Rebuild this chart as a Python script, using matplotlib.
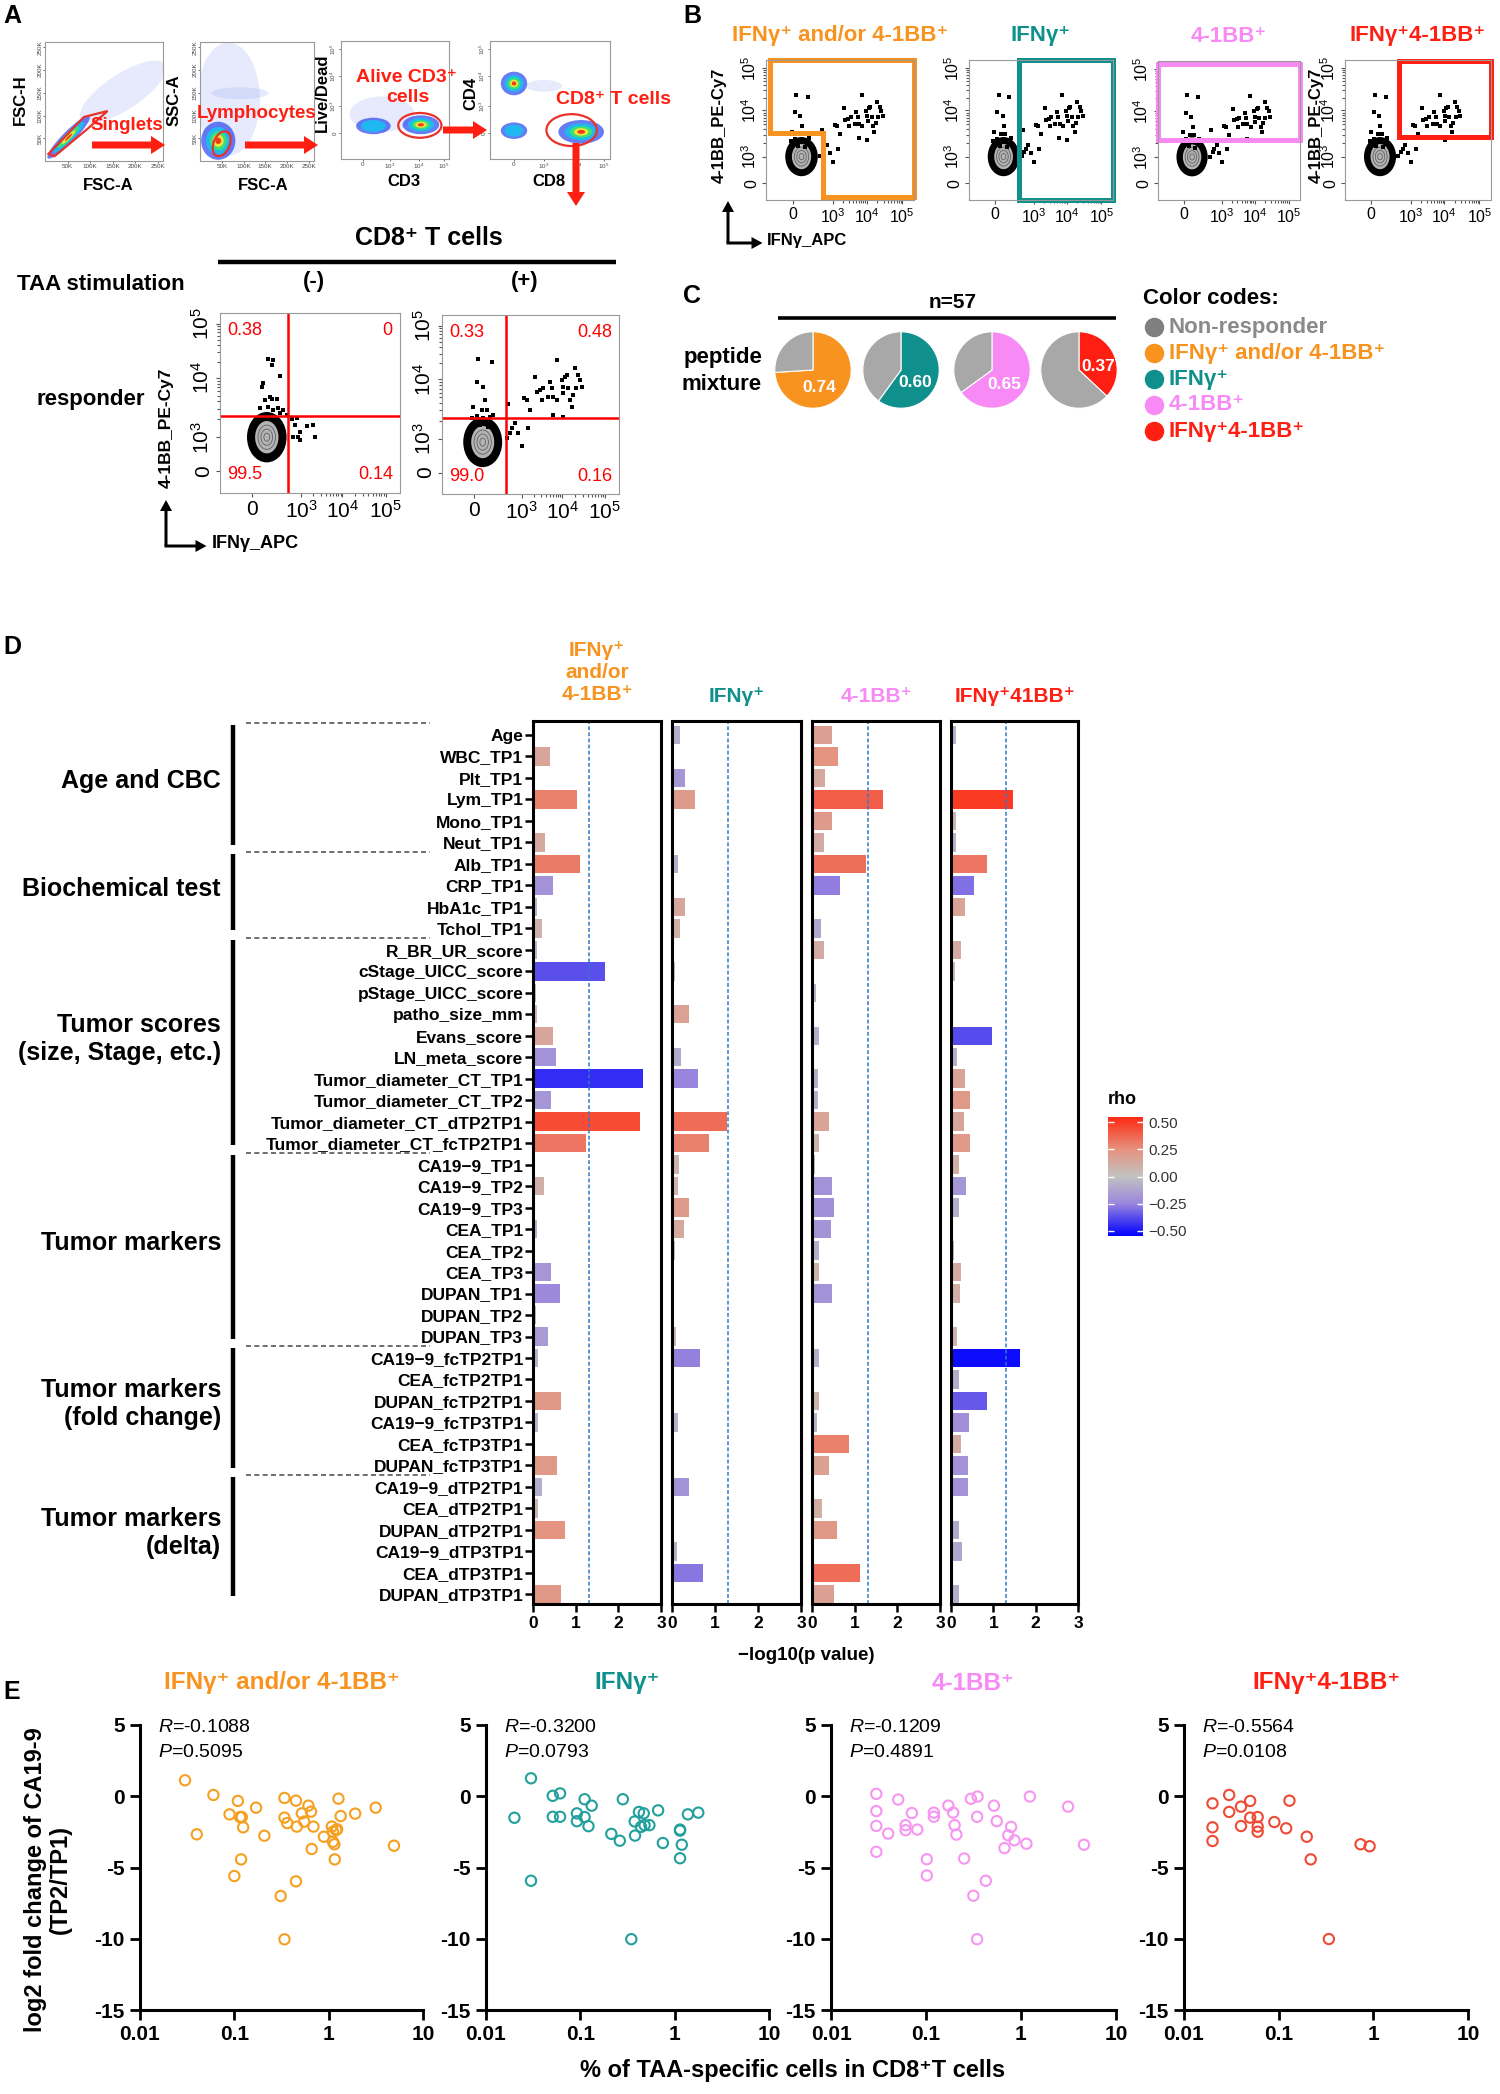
import numpy as np
import matplotlib.pyplot as plt
from matplotlib.colors import LinearSegmentedColormap, Normalize
from matplotlib.cm import ScalarMappable
from matplotlib.patches import Ellipse, Polygon, FancyArrow

plt.rcParams['font.family'] = ['Liberation Sans', 'DejaVu Sans']
plt.rcParams['mathtext.fontset'] = 'custom'
plt.rcParams['mathtext.rm'] = 'Liberation Sans'
plt.rcParams['mathtext.it'] = 'Liberation Sans:italic'
plt.rcParams['mathtext.bf'] = 'Liberation Sans:bold'

W, H = 1500, 2094

ORANGE = '#f7931e'
TEAL = '#10908c'
PINK = '#f88af5'
RED = '#ff1f12'
GREY = '#a8a8a8'

# ---------------- panel A/B flow data (display channel units 0-1) ----------------
pos_x = [0.375, 0.394, 0.412, 0.463, 0.478, 0.497, 0.525, 0.535, 0.554, 0.563,
         0.572, 0.60, 0.61, 0.62, 0.629, 0.648, 0.652, 0.676, 0.682, 0.686,
         0.695, 0.704, 0.714, 0.723, 0.733, 0.742, 0.751, 0.757, 0.77, 0.78,
         0.789, 0.682, 0.625, 0.488, 0.454, 0.431, 0.384, 0.366, 0.205, 0.281,
         0.196, 0.233, 0.243, 0.252, 0.224, 0.177, 0.196, 0.271, 0.29, 0.233,
         0.168, 0.215, 0.262]
pos_y = [0.501, 0.367, 0.395, 0.535, 0.525, 0.469, 0.655, 0.572, 0.581, 0.525,
         0.59, 0.544, 0.627, 0.59, 0.544, 0.749, 0.525, 0.637, 0.60, 0.563,
         0.655, 0.665, 0.59, 0.525, 0.488, 0.553, 0.702, 0.59, 0.665, 0.637,
         0.60, 0.432, 0.441, 0.367, 0.27, 0.339, 0.343, 0.311, 0.752, 0.739,
         0.627, 0.60, 0.525, 0.469, 0.469, 0.488, 0.436, 0.432, 0.441, 0.423,
         0.423, 0.385, 0.376]
neg_x = [0.268, 0.293, 0.287, 0.333, 0.241, 0.231, 0.25, 0.278, 0.287, 0.315,
         0.268, 0.222, 0.296, 0.324, 0.352, 0.333, 0.398, 0.426, 0.417, 0.444,
         0.435, 0.481, 0.519, 0.528, 0.444, 0.407, 0.374, 0.352]
neg_y = [0.742, 0.739, 0.711, 0.65, 0.609, 0.587, 0.517, 0.535, 0.52, 0.52,
         0.48, 0.47, 0.461, 0.47, 0.461, 0.443, 0.409, 0.415, 0.378, 0.341,
         0.309, 0.372, 0.378, 0.313, 0.294, 0.313, 0.433, 0.341]
quad_neg = ['0.38', '0', '99.5', '0.14']
quad_pos = ['0.33', '0.48', '99.0', '0.16']

# gating density populations: (cx, cy, w, h, angle, layers)
pops_singlets = [(0.66, 0.58, 0.85, 0.3, 33, 0), (0.2, 0.2, 0.5, 0.1, 45, 5)]
pops_lymph = [(0.25, 0.52, 0.55, 0.95, 0, 0), (0.35, 0.57, 0.5, 0.1, 0, 0),
              (0.16, 0.17, 0.3, 0.32, 0, 5)]
pops_cd3 = [(0.38, 0.38, 0.6, 0.3, 0, 0), (0.3, 0.28, 0.32, 0.14, 0, 2),
            (0.74, 0.29, 0.34, 0.16, 0, 5)]
pops_cd8 = [(0.45, 0.62, 0.3, 0.1, 0, 0), (0.2, 0.64, 0.22, 0.2, 0, 5),
            (0.2, 0.24, 0.22, 0.14, 0, 2), (0.76, 0.23, 0.38, 0.2, 0, 5)]
singlet_gate = [(0.03, 0.06), (0.33, 0.37), (0.53, 0.42), (0.36, 0.27), (0.08, 0.04)]
lymph_gate = (0.19, 0.145, 0.22, 0.14, 65)
cd3_gate = (0.73, 0.285, 0.4, 0.21, 0)
cd8_gate = (0.68, 0.245, 0.42, 0.27, 0)

# panel B gates in channel units
gate_any = [(0.03, 1.0), (1.0, 1.0), (1.0, 0.02), (0.385, 0.02), (0.385, 0.48), (0.03, 0.48), (0.03, 1.0)]
gate_ifng = [(0.35, 0.0), (0.35, 1.0), (1.0, 1.0), (1.0, 0.0), (0.35, 0.0)]
gate_bb = [(0.0, 0.43), (0.0, 0.98), (1.0, 0.98), (1.0, 0.43), (0.0, 0.43)]
gate_dp = [(0.37, 0.45), (0.37, 0.99), (1.0, 0.99), (1.0, 0.45), (0.37, 0.45)]

# ---------------- panel C ----------------
pie_fracs = [0.74, 0.60, 0.65, 0.37]
pie_colors = [ORANGE, TEAL, PINK, RED]
legend_names = ['Non-responder', 'IFNγ⁺ and/or 4-1BB⁺', 'IFNγ⁺', '4-1BB⁺', 'IFNγ⁺4-1BB⁺']
legend_colors = ['#7f7f7f', ORANGE, TEAL, PINK, RED]
legend_text_colors = ['#8a8a8a', ORANGE, TEAL, PINK, RED]

# ---------------- panel D ----------------
features = ['Age', 'WBC_TP1', 'Plt_TP1', 'Lym_TP1', 'Mono_TP1', 'Neut_TP1',
            'Alb_TP1', 'CRP_TP1', 'HbA1c_TP1', 'Tchol_TP1',
            'R_BR_UR_score', 'cStage_UICC_score', 'pStage_UICC_score', 'patho_size_mm',
            'Evans_score', 'LN_meta_score', 'Tumor_diameter_CT_TP1', 'Tumor_diameter_CT_TP2',
            'Tumor_diameter_CT_dTP2TP1', 'Tumor_diameter_CT_fcTP2TP1',
            'CA19−9_TP1', 'CA19−9_TP2', 'CA19−9_TP3', 'CEA_TP1', 'CEA_TP2', 'CEA_TP3',
            'DUPAN_TP1', 'DUPAN_TP2', 'DUPAN_TP3',
            'CA19−9_fcTP2TP1', 'CEA_fcTP2TP1', 'DUPAN_fcTP2TP1',
            'CA19−9_fcTP3TP1', 'CEA_fcTP3TP1', 'DUPAN_fcTP3TP1',
            'CA19−9_dTP2TP1', 'CEA_dTP2TP1', 'DUPAN_dTP2TP1',
            'CA19−9_dTP3TP1', 'CEA_dTP3TP1', 'DUPAN_dTP3TP1']
groups = [('Age and CBC', 0, 5), ('Biochemical test', 6, 9),
          ('Tumor scores\n(size, Stage, etc.)', 10, 19), ('Tumor markers', 20, 28),
          ('Tumor markers\n(fold change)', 29, 34), ('Tumor markers\n(delta)', 35, 40)]

d_any_p = [0.02, 0.39, 0.0, 1.02, 0.0, 0.29, 1.1, 0.46, 0.1, 0.2,
           0.1, 1.68, 0.08, 0.1, 0.46, 0.55, 2.58, 0.43, 2.5, 1.25,
           0.0, 0.26, 0.0, 0.1, 0.0, 0.43, 0.63, 0.08, 0.35,
           0.12, 0.0, 0.65, 0.12, 0.0, 0.57, 0.2, 0.12, 0.74, 0.0, 0.0, 0.66]
d_any_rho = [0.01, 0.15, 0.0, 0.30, 0.0, 0.13, 0.31, -0.2, -0.05, 0.08,
             -0.05, -0.37, -0.05, 0.05, 0.15, -0.2, -0.45, -0.18, 0.45, 0.33,
             0.0, 0.1, 0.0, -0.06, 0.0, -0.18, -0.24, -0.05, -0.16,
             -0.06, 0.0, 0.22, -0.06, 0.0, 0.21, -0.09, 0.06, 0.24, 0.0, 0.0, 0.22]
d_ifng_p = [0.18, 0.0, 0.31, 0.53, 0.0, 0.0, 0.15, 0.0, 0.31, 0.19,
            0.0, 0.06, 0.0, 0.39, 0.0, 0.2, 0.6, 0.05, 1.29, 0.86,
            0.16, 0.15, 0.4, 0.27, 0.06, 0.0, 0.0, 0.0, 0.1,
            0.65, 0.0, 0.0, 0.13, 0.0, 0.0, 0.4, 0.0, 0.04, 0.12, 0.71, 0.0]
d_ifng_rho = [-0.09, 0.0, -0.18, 0.2, 0.0, 0.0, -0.08, 0.0, 0.14, 0.1,
              0.0, -0.03, 0.0, 0.17, 0.0, -0.1, -0.25, 0.03, 0.36, 0.3,
              0.08, 0.08, 0.2, 0.13, 0.03, 0.0, 0.0, 0.0, 0.05,
              -0.26, 0.0, 0.0, -0.07, 0.0, 0.0, -0.2, 0.0, 0.02, -0.07, -0.28, 0.0]
d_bb_p = [0.46, 0.62, 0.31, 1.66, 0.47, 0.28, 1.27, 0.65, 0.0, 0.22,
          0.27, 0.0, 0.1, 0.0, 0.16, 0.0, 0.15, 0.15, 0.39, 0.16,
          0.07, 0.47, 0.52, 0.44, 0.17, 0.17, 0.47, 0.0, 0.0,
          0.17, 0.0, 0.17, 0.12, 0.87, 0.4, 0.0, 0.24, 0.58, 0.05, 1.13, 0.52]
d_bb_rho = [0.18, 0.24, 0.13, 0.4, 0.2, 0.12, 0.35, -0.27, 0.0, -0.11,
            0.12, 0.0, -0.06, 0.0, -0.08, 0.0, -0.08, -0.08, 0.16, 0.08,
            -0.04, -0.2, -0.21, -0.19, -0.08, 0.08, -0.2, 0.0, 0.0,
            -0.08, 0.0, 0.08, -0.06, 0.3, 0.18, 0.0, 0.11, 0.22, 0.03, 0.36, 0.18]
d_dp_p = [0.12, 0.0, 0.0, 1.47, 0.12, 0.12, 0.84, 0.55, 0.33, 0.0,
          0.24, 0.1, 0.0, 0.0, 0.98, 0.15, 0.34, 0.46, 0.31, 0.46,
          0.2, 0.36, 0.18, 0.0, 0.08, 0.24, 0.21, 0.0, 0.13,
          1.63, 0.18, 0.84, 0.43, 0.24, 0.41, 0.41, 0.0, 0.2, 0.25, 0.0, 0.18]
d_dp_rho = [-0.07, 0.0, 0.0, 0.5, 0.06, -0.07, 0.33, -0.3, 0.16, 0.0,
            0.12, 0.05, 0.0, 0.0, -0.38, -0.08, 0.16, 0.21, 0.15, 0.21,
            0.1, -0.18, -0.09, 0.0, -0.05, 0.12, 0.1, 0.0, 0.07,
            -0.52, -0.09, -0.35, -0.21, 0.12, -0.2, -0.2, 0.0, -0.1, -0.12, 0.0, -0.09]

# ---------------- panel E ----------------
any_x = [0.030, 0.060, 0.109, 0.089, 0.115, 0.12, 0.124, 0.040, 0.17, 0.208,
         0.118, 0.10, 0.34, 0.45, 0.34, 0.364, 0.46, 0.52, 0.55, 0.61,
         0.65, 0.69, 0.66, 0.45, 0.31, 0.34, 0.89, 1.08, 1.11, 1.20,
         1.23, 1.11, 1.15, 1.16, 1.27, 1.34, 1.91, 3.15, 4.92]
any_y = [1.12, 0.09, -0.33, -1.27, -1.46, -1.46, -2.18, -2.67, -0.80, -2.77,
         -4.43, -5.60, -0.12, -0.31, -1.50, -1.88, -2.13, -1.20, -1.78, -0.66,
         -1.08, -2.13, -3.70, -5.97, -7.00, -10.04, -2.84, -2.13, -2.49, -2.37,
         -2.32, -3.19, -3.37, -4.43, -0.17, -1.39, -1.22, -0.80, -3.47]
ifng_x = [0.030, 0.020, 0.051, 0.061, 0.051, 0.061, 0.030, 0.092, 0.092, 0.111,
          0.111, 0.132, 0.122, 0.213, 0.262, 0.282, 0.347, 0.377, 0.38, 0.418,
          0.47, 0.44, 0.48, 0.54, 0.668, 0.75, 1.14, 1.14, 1.19, 1.14, 1.38, 1.78]
ifng_y = [1.26, -1.51, 0.03, 0.20, -1.44, -1.44, -5.93, -1.20, -1.75, -0.21,
          -1.46, -0.66, -2.10, -2.64, -3.12, -0.21, -10.03, -1.77, -2.76, -1.10,
          -1.20, -2.15, -2.03, -2.03, -0.99, -3.28, -2.34, -2.41, -3.40, -4.35, -1.27, -1.15]
bb_x = [0.030, 0.030, 0.030, 0.030, 0.040, 0.051, 0.061, 0.061, 0.071, 0.081,
        0.102, 0.102, 0.121, 0.121, 0.172, 0.193, 0.20, 0.209, 0.252, 0.297,
        0.349, 0.345, 0.315, 0.426, 0.345, 0.519, 0.556, 0.787, 0.734, 0.853,
        0.67, 1.14, 1.24, 3.13, 4.60]
bb_y = [0.17, -1.04, -2.08, -3.90, -2.62, -0.23, -2.03, -2.38, -1.18, -2.34,
        -4.42, -5.56, -1.15, -1.44, -0.66, -1.15, -2.03, -2.69, -4.37, -0.18,
        -0.02, -1.44, -6.98, -5.93, -10.03, -0.66, -1.75, -2.15, -2.74, -3.09,
        -3.64, -3.33, -0.02, -0.73, -3.40]
dp_x = [0.020, 0.020, 0.020, 0.030, 0.030, 0.040, 0.040, 0.050, 0.050, 0.060,
        0.060, 0.060, 0.090, 0.120, 0.130, 0.198, 0.218, 0.339, 0.733, 0.914]
dp_y = [-0.50, -2.18, -3.14, 0.09, -1.10, -0.73, -2.09, -0.33, -1.50, -1.46,
        -2.13, -2.49, -1.81, -2.25, -0.31, -2.84, -4.43, -10.02, -3.37, -3.51]
e_r = [-0.1088, -0.3200, -0.1209, -0.5564]
e_p = [0.5095, 0.0793, 0.4891, 0.0108]

LAYER_COLORS = ['#3550f0', '#1fb8f0', '#38e07a', '#ece43a', '#f03c1c']
LAYER_SCALE = [1.0, 0.72, 0.5, 0.32, 0.17]
FLOW_XT = [0.18, 0.45, 0.68, 0.92]
FLOW_YT = [0.12, 0.31, 0.64, 0.94]
DECADES = ['0', '$10^3$', '$10^4$', '$10^5$']

fig = plt.figure(figsize=(W / 100, H / 100), dpi=100)
ov = fig.add_axes([0, 0, 1, 1], zorder=10)
ov.set_xlim(0, W)
ov.set_ylim(H, 0)
ov.axis('off')


def add_ax(x0, y0, x1, y1, **kw):
    return fig.add_axes([x0 / W, 1 - y1 / H, (x1 - x0) / W, (y1 - y0) / H], **kw)


def text(x, y, s, size, color='black', weight='bold', ha='center', va='center', **kw):
    ov.text(x, y, s, fontsize=size, color=color, fontweight=weight, ha=ha, va=va, **kw)


def arrow(x, y, dx, dy, color, width, head_w, head_l):
    ov.add_patch(FancyArrow(x, y, dx, dy, width=width, head_width=head_w, head_length=head_l,
                            length_includes_head=True, color=color, lw=0))


def minor_positions(ticks):
    out = []
    for a, b in zip(ticks[1:-1], ticks[2:]):
        out += [a + (b - a) * np.log10(k) for k in range(2, 10)]
    return out


def density_plot(box, pops, gate, log_axes):
    ax = add_ax(*box)
    ax.set_xlim(0, 1)
    ax.set_ylim(0, 1)
    for cx, cy, w, h, ang, n in pops:
        if n == 0:
            ax.add_patch(Ellipse((cx, cy), w, h, angle=ang, color='#8fa3f2', alpha=0.22, lw=0))
        for k in range(n):
            ax.add_patch(Ellipse((cx, cy), w * LAYER_SCALE[k], h * LAYER_SCALE[k], angle=ang,
                                 color=LAYER_COLORS[k], alpha=0.75 if k == 0 else 1, lw=0))
    ax.add_patch(gate)
    if log_axes:
        ax.set_xticks([0.2, 0.45, 0.72, 0.95])
        ax.set_xticklabels(DECADES)
        ax.set_yticks([0.22, 0.45, 0.7, 0.93])
        ax.set_yticklabels(DECADES, rotation=90, va='center')
    else:
        kt = [50 / 262, 100 / 262, 150 / 262, 200 / 262, 250 / 262]
        kl = ['50K', '100K', '150K', '200K', '250K']
        ax.set_xticks(kt)
        ax.set_xticklabels(kl)
        ax.set_yticks(kt)
        ax.set_yticklabels(kl, rotation=90, va='center')
    ax.tick_params(labelsize=4.5, length=1.5, width=0.6, color='#555', labelcolor='#444', pad=0.5)
    for s in ax.spines.values():
        s.set_color('#999999')
        s.set_linewidth(0.8)
    return ax


def gated_flow(box, dx, dy, blob, fs):
    ax = add_ax(*box)
    ax.set_xlim(0, 1)
    ax.set_ylim(0, 1)
    bx, by = blob
    ax.add_patch(Ellipse((bx, by), 0.22, 0.28, color='black', lw=0))
    ax.add_patch(Ellipse((bx, by), 0.13, 0.18, color='#b4b4b4', lw=0))
    for s in (0.75, 0.5, 0.25):
        ax.add_patch(Ellipse((bx, by), 0.13 * s, 0.18 * s, fill=False, ec='#606060', lw=0.6))
    ax.scatter(dx, dy, s=6, marker='s', c='black', lw=0)
    ax.set_xticks(FLOW_XT)
    ax.set_xticklabels(DECADES, fontsize=fs)
    ax.set_yticks(FLOW_YT)
    ax.set_yticklabels(DECADES, fontsize=fs, rotation=90, va='center')
    ax.set_xticks(minor_positions(FLOW_XT), minor=True)
    ax.set_yticks(minor_positions(FLOW_YT), minor=True)
    ax.tick_params(which='both', length=3, width=0.8, color='#555', pad=2)
    ax.tick_params(which='minor', length=2)
    for s in ax.spines.values():
        s.set_color('#999999')
        s.set_linewidth(0.8)
    return ax


# ================= Panel A =================
text(12, 16, 'A', 18)
gate_kw = dict(fill=False, ec='#e8322a', lw=1.6)
density_plot((45, 42, 163, 161), pops_singlets, Polygon(singlet_gate, closed=True, **gate_kw), False)
density_plot((200, 42, 314, 161), pops_lymph,
             Ellipse(lymph_gate[:2], lymph_gate[2], lymph_gate[3], angle=lymph_gate[4], **gate_kw), False)
density_plot((341, 41, 449, 159), pops_cd3,
             Ellipse(cd3_gate[:2], cd3_gate[2], cd3_gate[3], angle=cd3_gate[4], **gate_kw), True)
density_plot((490, 41, 610, 159), pops_cd8,
             Ellipse(cd8_gate[:2], cd8_gate[2], cd8_gate[3], angle=cd8_gate[4], **gate_kw), True)

text(20, 100, 'FSC-H', 12, rotation=90)
text(108, 185, 'FSC-A', 12)
text(174, 100, 'SSC-A', 12, rotation=90)
text(263, 185, 'FSC-A', 12)
text(322, 93, 'Live/Dead', 12, rotation=90)
text(404, 181, 'CD3', 12)
text(471, 93, 'CD4', 12, rotation=90)
text(549, 182, 'CD8', 12)
text(127, 125, 'Singlets', 13.5, color=RED)
text(257, 114, 'Lymphocytes', 13.5, color=RED)
text(406, 77, 'Alive CD3⁺', 14, color=RED)
text(408, 98, 'cells', 14, color=RED)
text(614, 99, 'CD8⁺ T cells', 14, color=RED)
arrow(92, 145, 73, 0, RED, 7, 18, 14)
arrow(245, 145, 73, 0, RED, 7, 18, 14)
arrow(443, 130, 44, 0, RED, 7, 18, 14)
arrow(576, 143, 0, 63, RED, 7, 18, 14)

text(429, 238, 'CD8⁺ T cells', 18)
ov.plot([218, 616], [262, 262], color='black', lw=3.2, solid_capstyle='butt')
text(17, 284, 'TAA stimulation', 16, ha='left')
text(314, 282, '(-)', 16)
text(525, 282, '(+)', 16)
text(91, 399, 'responder', 16)

ax_neg = gated_flow((220, 313, 400, 493), neg_x, neg_y, (0.26, 0.31), 15)
ax_pos = gated_flow((442, 315, 619, 494), pos_x, pos_y, (0.23, 0.29), 15)
for ax, (qx, qy), nums in [(ax_neg, (0.38, 0.43), quad_neg), (ax_pos, (0.36, 0.425), quad_pos)]:
    ax.axvline(qx, color='red', lw=1.8)
    ax.axhline(qy, color='red', lw=1.8)
    tk = dict(color='red', fontsize=13, transform=ax.transAxes, va='center')
    ax.text(0.04, 0.9, nums[0], ha='left', **tk)
    ax.text(0.96, 0.9, nums[1], ha='right', **tk)
    ax.text(0.04, 0.1, nums[2], ha='left', **tk)
    ax.text(0.96, 0.1, nums[3], ha='right', **tk)
text(166, 428, '4-1BB_PE-Cy7', 12.5, rotation=90)
arrow(166, 546, 0, -46, 'black', 3, 12, 11)
arrow(164.5, 546, 42, 0, 'black', 3, 12, 11)
text(212, 544, 'IFNγ_APC', 13, ha='left')

# ================= Panel B =================
text(692, 16, 'B', 18)
b_boxes = [(766, 60, 914, 200), (969, 60, 1113, 200), (1158, 61, 1300, 200), (1345, 60, 1491, 200)]
b_gates = [gate_any, gate_ifng, gate_bb, gate_dp]
b_titles = ['IFNγ⁺ and/or 4-1BB⁺', 'IFNγ⁺', '4-1BB⁺', 'IFNγ⁺4-1BB⁺']
b_colors = [ORANGE, TEAL, PINK, RED]
for box, g, title, col in zip(b_boxes, b_gates, b_titles, b_colors):
    ax = gated_flow(box, pos_x, pos_y, (0.24, 0.31), 11.5)
    gx, gy = zip(*g)
    ax.plot(gx, gy, color=col, lw=3.6, clip_on=False, solid_joinstyle='miter')
    text((box[0] + box[2]) / 2, 36, title, 16, color=col)
text(719, 125, '4-1BB_PE-Cy7', 12, rotation=90)
text(1316, 125, '4-1BB_PE-Cy7', 12, rotation=90)
arrow(728, 243, 0, -42, 'black', 3, 12, 11)
arrow(726.5, 243, 36, 0, 'black', 3, 12, 11)
text(767, 240, 'IFNγ_APC', 12, ha='left')

# ================= Panel C =================
text(692, 296, 'C', 18)
text(953, 302, 'n=57', 15)
ov.plot([778, 1116], [318, 318], color='black', lw=2.6, solid_capstyle='butt')
text(762, 358, 'peptide', 16, ha='right')
text(762, 385, 'mixture', 16, ha='right')
pie_cx = [813, 901, 992, 1079]
for cx, frac, col in zip(pie_cx, pie_fracs, pie_colors):
    pax = add_ax(cx - 39, 331, cx + 39, 409)
    pax.pie([frac, 1 - frac], colors=[col, GREY], startangle=90, counterclock=False,
            wedgeprops=dict(edgecolor='white', linewidth=0.8))
    pax.set_xlim(-1.02, 1.02)
    pax.set_ylim(-1.02, 1.02)
    pax.set_aspect('equal')
    mid = np.deg2rad(90 - 360 * frac * 0.6)
    pax.text(0.5 * np.cos(mid), 0.5 * np.sin(mid), f'{frac:.2f}', color='white',
             fontsize=12.5, fontweight='bold', ha='center', va='center')
text(1143, 299, 'Color codes:', 16, ha='left')
for k, (name, mc, tc) in enumerate(zip(legend_names, legend_colors, legend_text_colors)):
    yy = 327 + 26 * k
    ov.plot([1154], [yy], 'o', color=mc, markersize=13)
    text(1169, yy, name, 16, color=tc, ha='left')

# ================= Panel D =================
text(12, 647, 'D', 18)
cmap = LinearSegmentedColormap.from_list('rho', [(0.0, '#0000ff'), (0.3 / 1.1, '#9a86dd'),
                                                (0.5, '#c2c2c2'), (0.8 / 1.1, '#e5927e'),
                                                (1.0, '#ff2a12')])
norm = Normalize(vmin=-0.55, vmax=0.55)
rows = np.arange(len(features))
ylim = (40.45, -0.65)

gax = add_ax(0, 721, 533, 1604)
gax.set_xlim(0, 533)
gax.set_ylim(*ylim)
gax.axis('off')
for name, a, b in groups:
    gax.plot([233, 233], [a - 0.45, b + 0.1], color='black', lw=3.2, solid_capstyle='butt')
    gax.plot([246, 430], [a - 0.55, a - 0.55], color='#555555', lw=1.2, ls=(0, (3, 2)))
    gax.text(221, (a + b) / 2 - 0.35, name, ha='right', va='center', fontsize=18,
             fontweight='bold', linespacing=1.2)

d_cols = [(d_any_p, d_any_rho, 'IFNγ⁺\nand/or\n4-1BB⁺', ORANGE),
          (d_ifng_p, d_ifng_rho, 'IFNγ⁺', TEAL),
          (d_bb_p, d_bb_rho, '4-1BB⁺', PINK),
          (d_dp_p, d_dp_rho, 'IFNγ⁺41BB⁺', RED)]
d_x = [(533, 661), (672, 801), (812, 940), (951, 1078)]
for j, ((pv, rho, title, col), (x0, x1)) in enumerate(zip(d_cols, d_x)):
    ax = add_ax(x0, 721, x1, 1604)
    ax.barh(rows, pv, height=0.86, color=cmap(norm(np.array(rho))), edgecolor='none')
    ax.axvline(-np.log10(0.05), color='#2f78c8', lw=1.1, ls=(0, (2.5, 1.5)))
    ax.set_xlim(0, 3)
    ax.set_ylim(*ylim)
    ax.set_xticks([0, 1, 2, 3])
    ax.set_xticklabels(['0', '1', '2', '3'], fontsize=12.5, fontweight='bold')
    if j == 0:
        ax.set_yticks(rows)
        ax.set_yticklabels(features, fontsize=12.5, fontweight='bold')
        ax.tick_params(axis='y', length=6, width=1.8, pad=1)
    else:
        ax.set_yticks([])
    ax.tick_params(axis='x', length=6, width=1.8, pad=3)
    for s in ax.spines.values():
        s.set_linewidth(2.2)
    if j == 0:
        text((x0 + x1) / 2, 672, title, 15, color=col, linespacing=1.2)
    else:
        text((x0 + x1) / 2, 697, title, 15, color=col)
text(806, 1655, '−log10(p value)', 13.5)

cax = add_ax(1108, 1117, 1143, 1236)
cb = fig.colorbar(ScalarMappable(norm=norm, cmap=cmap), cax=cax, ticks=[0.5, 0.25, 0, -0.25, -0.5])
cb.outline.set_visible(False)
cb.ax.set_yticklabels(['0.50', '0.25', '0.00', '−0.25', '−0.50'])
cax.tick_params(length=4, width=1, color='white', direction='in', labelsize=11,
                labelcolor='#333333', pad=4, left=True, right=True)
text(1108, 1100, 'rho', 13, ha='left')

# ================= Panel E =================
text(12, 1692, 'E', 18)
e_sets = [(any_x, any_y, '#f5a020', 'IFNγ⁺ and/or 4-1BB⁺', ORANGE),
          (ifng_x, ifng_y, '#22a09c', 'IFNγ⁺', TEAL),
          (bb_x, bb_y, '#f696f0', '4-1BB⁺', PINK),
          (dp_x, dp_y, '#ee4a35', 'IFNγ⁺4-1BB⁺', RED)]
e_x = [(140, 423), (486, 769), (831, 1116), (1184, 1468)]
for (xs, ys, mc, title, tc), (x0, x1), r, p in zip(e_sets, e_x, e_r, e_p):
    ax = add_ax(x0, 1725, x1, 2010)
    ax.scatter(xs, ys, s=55, facecolors='none', edgecolors=mc, linewidths=1.5, clip_on=False)
    ax.set_xscale('log')
    ax.set_xlim(0.01, 10)
    ax.set_ylim(-15, 5)
    ax.minorticks_off()
    ax.set_xticks([0.01, 0.1, 1, 10])
    ax.set_xticklabels(['0.01', '0.1', '1', '10'], fontsize=15, fontweight='bold')
    ax.set_yticks([5, 0, -5, -10, -15])
    ax.set_yticklabels(['5', '0', '-5', '-10', '-15'], fontsize=15, fontweight='bold')
    ax.tick_params(length=7, width=2, pad=4)
    for side in ('top', 'right'):
        ax.spines[side].set_visible(False)
    for side in ('left', 'bottom'):
        ax.spines[side].set_linewidth(2.2)
    ax.text(0.064, 0.99, r'$\mathit{R}$=' + f'{r:.4f}', transform=ax.transAxes,
            fontsize=14, ha='left', va='center')
    ax.text(0.064, 0.905, r'$\mathit{P}$=' + f'{p:.4f}', transform=ax.transAxes,
            fontsize=14, ha='left', va='center')
    text((x0 + x1) / 2, 1683, title, 17.5, color=tc)
text(48, 1880, 'log2 fold change of CA19-9\n(TP2/TP1)', 17, rotation=90, linespacing=1.15)
text(793, 2070, '% of TAA-specific cells in CD8⁺T cells', 17)

fig.savefig('out.png', dpi=100)
